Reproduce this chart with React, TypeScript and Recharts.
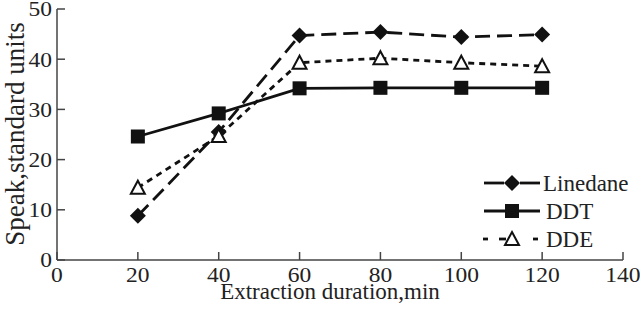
import React from 'react';
import { LineChart, Line, XAxis, YAxis, Customized } from 'recharts';

// values
const durations = [20, 40, 60, 80, 100, 120];
const linedane = [8.8, 25.5, 44.7, 45.4, 44.4, 44.9];
const ddt = [24.6, 29.2, 34.2, 34.3, 34.3, 34.3];
const dde = [14.4, 24.7, 39.3, 40.2, 39.3, 38.6];
const xTicks = [0, 20, 40, 60, 80, 100, 120, 140];
const yTicks = [0, 10, 20, 30, 40, 50];
const seriesNames = ['Linedane', 'DDT', 'DDE'];

const data = durations.map((d, i) => ({
  duration: d,
  Linedane: linedane[i],
  DDT: ddt[i],
  DDE: dde[i],
}));

const FONT = 'Liberation Serif, Times New Roman, serif';
const INK = '#111';
const AXIS = '#444';

const dashes: Record<string, string | undefined> = {
  Linedane: '15 7',
  DDT: undefined,
  DDE: '6 5',
};

// legend line pieces, relative to the legend marker centre
const legendPieces: Record<string, number[][]> = {
  Linedane: [[-28, -8], [8, 28]],
  DDT: [[-28, 28]],
  DDE: [[-29, -24], [-13, -6], [21, 26]],
};

const Marker = ({ name, cx, cy }: { name: string; cx: number; cy: number }) => {
  if (name === 'Linedane') {
    return (
      <polygon
        points={`${cx},${cy - 8} ${cx + 8},${cy} ${cx},${cy + 8} ${cx - 8},${cy}`}
        fill={INK}
      />
    );
  }
  if (name === 'DDT') {
    return <rect x={cx - 7} y={cy - 7} width={14} height={14} fill={INK} />;
  }
  return (
    <polygon
      points={`${cx},${cy - 7} ${cx + 7},${cy + 6} ${cx - 7},${cy + 6}`}
      fill="#fff"
      stroke={INK}
      strokeWidth={2}
    />
  );
};

const makeDot = (name: string) => (props: any) => {
  const { cx, cy, index } = props;
  if (cx == null || cy == null) return <g key={`${name}-${index}`} />;
  return (
    <g key={`${name}-${index}`}>
      <Marker name={name} cx={cx} cy={cy} />
    </g>
  );
};

const XTick = ({ x, y, payload }: any) => (
  <text
    x={x}
    y={y}
    dy="0.71em"
    textAnchor="middle"
    fontFamily={FONT}
    fontSize={21}
    fill="#222"
    transform={`translate(${x},0) scale(1.12,1) translate(${-x},0)`}
  >
    {payload.value}
  </text>
);

const YTick = ({ x, y, payload }: any) => (
  <text
    x={x}
    y={y}
    dy="0.35em"
    textAnchor="end"
    fontFamily={FONT}
    fontSize={21}
    fill="#222"
    transform={`translate(${x},0) scale(1.12,1) translate(${-x},0)`}
  >
    {payload.value}
  </text>
);

const LegendBox = () => {
  const rows = [183, 211, 239];
  const mx = 512;
  return (
    <g>
      {seriesNames.map((name, i) => {
        const y = rows[i];
        return (
          <g key={name}>
            {legendPieces[name].map(([a, b], j) => (
              <line key={j} x1={mx + a} x2={mx + b} y1={y} y2={y} stroke={INK} strokeWidth={2.8} />
            ))}
            <Marker name={name} cx={mx} cy={y} />
            <text x={name === 'Linedane' ? 543 : 546} y={y} dy="0.35em" fontFamily={FONT} fontSize={23} fill="#222">
              {name}
            </text>
          </g>
        );
      })}
    </g>
  );
};

export default function App() {
  return (
    <div style={{ position: 'absolute', left: 0, top: 0, background: '#fff' }}>
      <LineChart width={640} height={315} data={data} margin={{ top: 9, right: 17, left: 0, bottom: 0 }}>
        <XAxis
          dataKey="duration"
          type="number"
          domain={[0, 140]}
          ticks={xTicks}
          height={55}
          stroke={AXIS}
          strokeWidth={1.5}
          tickSize={-8}
          tickMargin={15}
          tick={<XTick />}
          label={{
            content: () => (
              <text x={330} y={299} textAnchor="middle" fontFamily={FONT} fontSize={23} fill="#222">
                Extraction duration,min
              </text>
            ),
          }}
        />
        <YAxis
          type="number"
          domain={[0, 50]}
          ticks={yTicks}
          width={57}
          stroke={AXIS}
          strokeWidth={1.5}
          tickSize={-8}
          tickMargin={13}
          tick={<YTick />}
          label={{
            content: () => (
              <text
                x={24}
                y={134}
                textAnchor="middle"
                fontFamily={FONT}
                fontSize={27}
                fill="#222"
                transform="rotate(-90 24 134)"
              >
                Speak,standard units
              </text>
            ),
          }}
        />
        {seriesNames.map((name) => (
          <Line
            key={name}
            type="linear"
            dataKey={name}
            stroke={INK}
            strokeWidth={2.8}
            strokeDasharray={dashes[name]}
            dot={makeDot(name)}
            activeDot={false}
            isAnimationActive={false}
          />
        ))}
        <Customized component={LegendBox} />
      </LineChart>
    </div>
  );
}
